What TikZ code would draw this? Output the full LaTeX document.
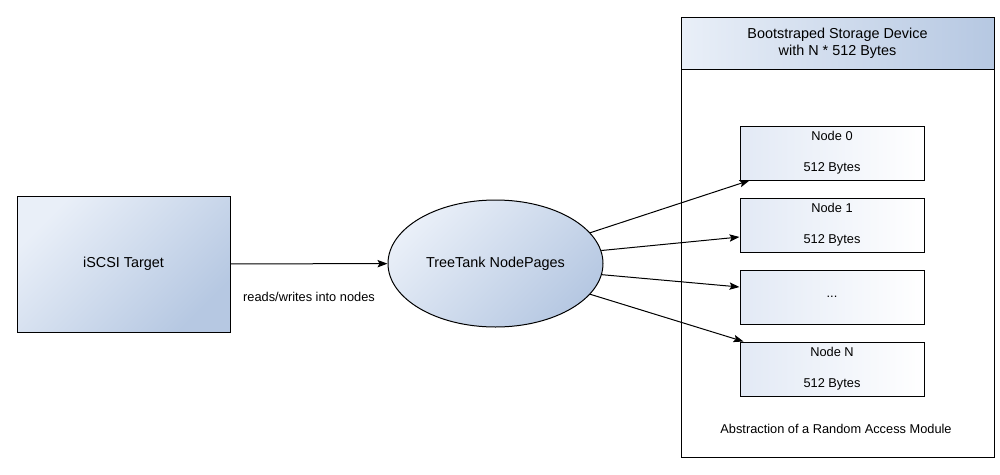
\documentclass[tikz,border=0pt]{standalone}
\usepackage{fontspec}
\setmainfont{Liberation Sans}
\usetikzlibrary{arrows.meta,positioning,shapes.geometric}
\definecolor{shadelight}{HTML}{E9EFF8}
\definecolor{shadedark}{HTML}{B6C8E2}
\definecolor{slotlight}{HTML}{E2E9F5}
\begin{document}
\begin{tikzpicture}[
  x=0.75pt, y=-0.75pt,
  bigfont/.style={font=\fontsize{10.8}{12.75}\selectfont},
  smallfont/.style={font=\fontsize{9.6}{23.25}\selectfont},
  target/.style={draw, rectangle, top color=shadelight, bottom color=shadedark,
    shading angle=45, minimum width=159.75pt, minimum height=102pt, bigfont},
  pages/.style={draw, ellipse, top color=shadelight, bottom color=shadedark,
    shading angle=45, inner sep=0pt, minimum width=161.25pt,
    minimum height=95.25pt, bigfont},
  storage/.style={draw, rectangle, minimum width=234.75pt, minimum height=330pt},
  banner/.style={draw, rectangle, left color=shadelight, right color=shadedark,
    minimum width=234.75pt, minimum height=39pt, align=center, bigfont},
  slot/.style={draw, rectangle, left color=slotlight, right color=white,
    minimum width=138pt, minimum height=40.5pt, align=center, smallfont},
  line width=0.75pt, ->, >={Stealth[length=7.5pt,width=5.5pt,inset=1.5pt]}
]
\useasboundingbox (0,0) rectangle (1000,475);
\node[target] (iscsi) at (123.5,264) {iSCSI Target};
\node[pages] (tank) at (495.5,263.5) {TreeTank NodePages};
\node[storage] (device) at (837.5,237) {};
\node[banner, anchor=north] (header) at (device.north) {Bootstraped Storage Device\\with N * 512 Bytes};
\node[slot] (node0) at (832,153) {Node 0\\512 Bytes};
\node[slot] (node1) at (832,225) {Node 1\\512 Bytes};
\node[slot] (dots) at (832,297) {...};
\node[slot] (nodeN) at (832,369) {Node N\\512 Bytes};
\node[smallfont] (abstract) at (836,429) {Abstraction of a Random Access Module};

\draw (iscsi) -- node[midway, yshift=-24.75pt, smallfont] {reads/writes into nodes} (tank);
\draw (tank.18) -- ([xshift=7.5pt]node0.south west);
\draw (tank.7) -- ([yshift=-9pt]node1.west);
\draw (tank.-6) -- ([yshift=7.5pt]dots.west);
\draw (tank.-18) -- ([xshift=3pt]nodeN.north west);
\end{tikzpicture}
\end{document}
